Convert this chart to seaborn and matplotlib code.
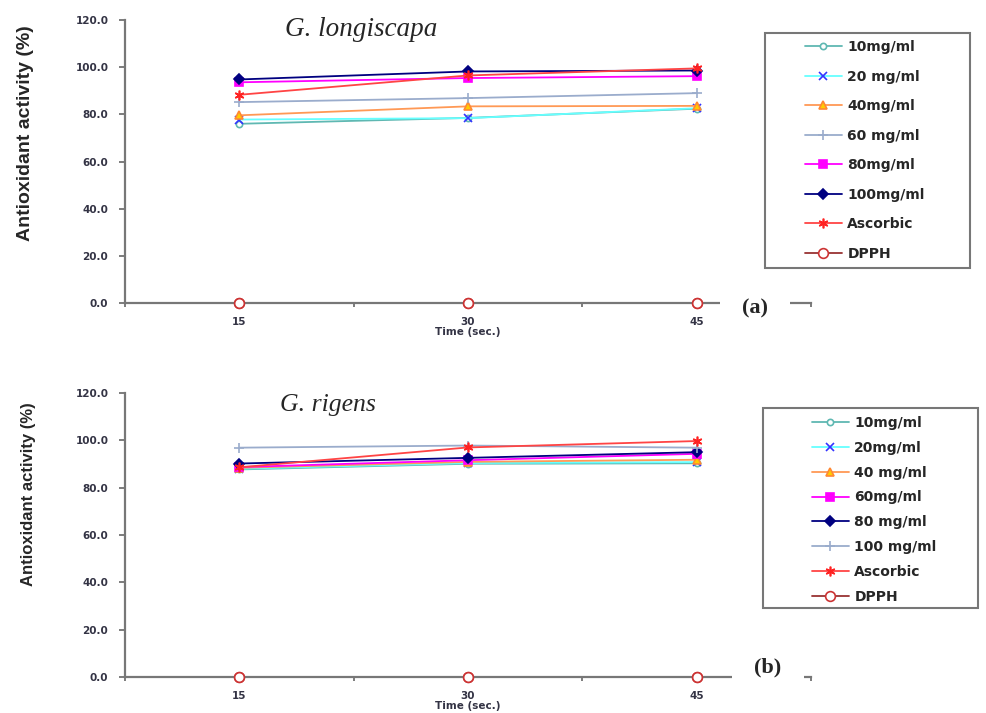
import numpy as np
import pandas as pd
import matplotlib
matplotlib.use('Agg')
import matplotlib.pyplot as plt
from matplotlib.patches import Rectangle
import seaborn as sns

times = [15, 30, 45]

# G. longiscapa (a)
labels_a = ['10mg/ml', '20 mg/ml', '40mg/ml', '60 mg/ml', '80mg/ml', '100mg/ml', 'Ascorbic', 'DPPH']
vals_a = [
    [76.0, 78.5, 82.4],
    [77.8, 78.4, 82.6],
    [79.6, 83.4, 83.6],
    [85.2, 86.9, 89.0],
    [93.6, 95.4, 96.2],
    [94.8, 98.2, 98.6],
    [88.3, 96.5, 99.5],
    [0.0, 0.0, 0.0],
]

# G. rigens (b)
labels_b = ['10mg/ml', '20mg/ml', '40 mg/ml', '60mg/ml', '80 mg/ml', '100 mg/ml', 'Ascorbic', 'DPPH']
vals_b = [
    [87.7, 90.1, 90.3],
    [88.0, 90.4, 90.8],
    [88.4, 90.9, 91.8],
    [88.7, 91.6, 94.3],
    [90.2, 92.6, 95.0],
    [96.9, 97.8, 96.9],
    [88.6, 97.0, 99.7],
    [0.0, 0.0, 0.0],
]

# line colour, marker, marker face, marker edge, marker size
sty_10 = ('#5fb8b2', 'o', 'white', '#5fb8b2', 4.5)
sty_20 = ('#66ffff', 'x', '#3333ff', '#3333ff', 5.5)
sty_40 = ('#ff9955', '^', '#ffcc00', '#ff8833', 6)
sty_sb = ('#9aaccc', '+', '#9aaccc', '#9aaccc', 7)
sty_mg = ('#ff00ff', 's', '#ff00ff', '#ff00ff', 6)
sty_nv = ('#000080', 'D', '#000080', '#000080', 5)
sty_as = ('#ff4444', (6, 2, 0), '#ff2222', '#ff2222', 7)
sty_dp = ('#993333', 'o', 'white', '#cc3333', 7)

styles_a = [sty_10, sty_20, sty_40, sty_sb, sty_mg, sty_nv, sty_as, sty_dp]
styles_b = [sty_10, sty_20, sty_40, sty_mg, sty_nv, sty_sb, sty_as, sty_dp]

sns.set_theme(style='white')
plt.rcParams['font.family'] = ['DejaVu Sans']

fig = plt.figure(figsize=(9.86, 7.13), dpi=100)
ax_a = fig.add_axes([0.1268, 0.5750, 0.6957, 0.3969])
ax_b = fig.add_axes([0.1268, 0.0505, 0.6957, 0.3983])


def draw_panel(ax, labels, vals, styles):
    for lab, v, st in zip(labels, vals, styles):
        col, mk, mfc, mec, ms = st
        z = 1 if lab == 'DPPH' else 2
        sns.lineplot(x=times, y=v, ax=ax, color=col, marker=mk, markersize=ms,
                     markerfacecolor=mfc, markeredgecolor=mec, markeredgewidth=1.2,
                     linewidth=1.3, label=lab, clip_on=False, zorder=z)
        if lab == 'DPPH':
            # markers sit on top of the grey axis line
            sns.scatterplot(x=times, y=v, ax=ax, marker=mk, s=ms ** 2, color=mfc,
                            edgecolor=mec, linewidth=1.2, clip_on=False, zorder=4,
                            legend=False)
    if ax.get_legend() is not None:
        ax.get_legend().remove()
    ax.set_xlim(7.5, 52.5)
    ax.set_ylim(0, 120)
    ax.set_yticks(np.arange(0, 121, 20))
    ax.set_yticklabels(['%.1f' % t for t in np.arange(0, 121, 20)])
    ax.set_xticks(times)
    ax.set_xticks([7.5, 22.5, 37.5, 52.5], minor=True)
    ax.tick_params(axis='x', which='major', length=0, pad=10, labelsize=7.5,
                   labelcolor='#333344')
    ax.tick_params(axis='x', which='minor', length=3, width=1.2, color='#666666',
                   direction='out', bottom=True)
    ax.tick_params(axis='y', length=4, width=1.2, color='#666666', direction='out',
                   left=True, labelsize=7.5, labelcolor='#333344', pad=8)
    for lbl in ax.get_xticklabels() + ax.get_yticklabels():
        lbl.set_fontweight('bold')
    for s in ['top', 'right']:
        ax.spines[s].set_visible(False)
    for s in ['left', 'bottom']:
        ax.spines[s].set_color('#777777')
        ax.spines[s].set_linewidth(1.6)
        ax.spines[s].set_zorder(3)
    ax.set_xlabel('Time (sec.)', fontsize=7.5, fontweight='bold', color='#333344', labelpad=0)
    ax.set_ylabel('')
    ax.grid(False)


draw_panel(ax_a, labels_a, vals_a, styles_a)
draw_panel(ax_b, labels_b, vals_b, styles_b)

# species titles
ax_a.text(0.345, 0.965, 'G. longiscapa', transform=ax_a.transAxes, ha='center', va='center',
          fontsize=19.5, fontstyle='italic', family=['Liberation Serif'])
ax_b.text(0.296, 0.958, 'G. rigens', transform=ax_b.transAxes, ha='center', va='center',
          fontsize=18.5, fontstyle='italic', family=['Liberation Serif'])

# panel tags covering the end of the axis line
ax_a.text(0.918, -0.018, '(a)', transform=ax_a.transAxes, ha='center', va='center',
          fontsize=16, fontweight='bold', family=['Liberation Serif'], zorder=5,
          bbox=dict(facecolor='white', edgecolor='none', boxstyle='square,pad=1.0'))
ax_b.text(0.937, 0.032, '(b)', transform=ax_b.transAxes, ha='center', va='center',
          fontsize=16, fontweight='bold', family=['Liberation Serif'], zorder=5,
          bbox=dict(facecolor='white', edgecolor='none', boxstyle='square,pad=1.0'))

# y axis labels
fig.text(0.0254, 0.8135, 'Antioxidant activity (%)', rotation=90, ha='center', va='center',
         fontsize=14, fontweight='bold', family=['Liberation Sans'])
fig.text(0.0284, 0.307, 'Antioxidant activity (%)', rotation=90, ha='center', va='center',
         fontsize=12, fontweight='bold', family=['Liberation Sans'])

# legends with separate frames
h, l = ax_a.get_legend_handles_labels()
fig.legend(h, l, loc='upper left', bbox_to_anchor=(0.8164, 0.9439), frameon=False,
           borderpad=0, borderaxespad=0, labelspacing=1.12,
           handlelength=2.65, handletextpad=0.4, prop={'weight': 'bold', 'size': 10})
fig.add_artist(Rectangle((0.7759, 0.6241), 0.2079, 0.3296, transform=fig.transFigure,
                         fill=False, edgecolor='#777777', linewidth=1.5))

h, l = ax_b.get_legend_handles_labels()
fig.legend(h, l, loc='upper left', bbox_to_anchor=(0.8235, 0.4166), frameon=False,
           borderpad=0, borderaxespad=0, labelspacing=0.78,
           handlelength=2.65, handletextpad=0.4, prop={'weight': 'bold', 'size': 10})
fig.add_artist(Rectangle((0.7738, 0.1473), 0.218, 0.2805, transform=fig.transFigure,
                         fill=False, edgecolor='#777777', linewidth=1.5))

fig.savefig('out.png', dpi=100)
